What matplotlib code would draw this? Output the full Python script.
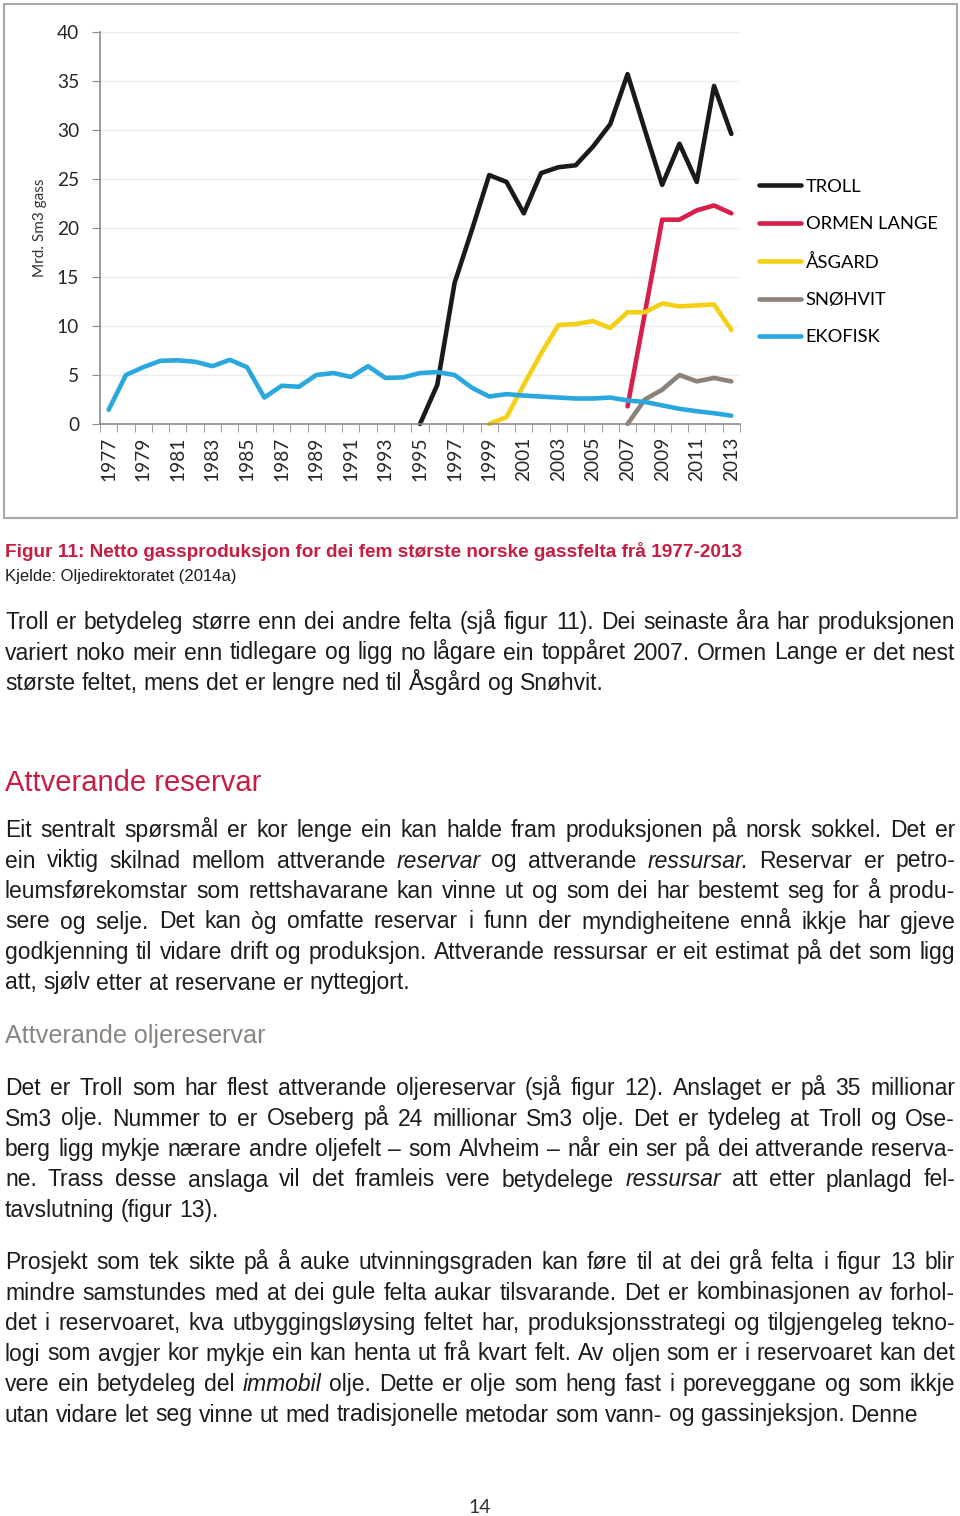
import matplotlib
matplotlib.use("Agg")
import matplotlib.pyplot as plt
from matplotlib.patches import Rectangle
import numpy as np

W, H = 960, 1516
nan = np.nan

# Netto gassproduksjon, mrd. Sm3
years = list(range(1977, 2014))
troll = [nan] * 18 + [0.0, 4.0, 14.4, 19.8, 25.4, 24.7, 21.5, 25.6, 26.2, 26.4,
                      28.3, 30.6, 35.7, 30.0, 24.4, 28.6, 24.7, 34.5, 29.6]
ormen_lange = [nan] * 30 + [1.8, 11.3, 20.85, 20.85, 21.8, 22.3, 21.5]
asgard = [nan] * 22 + [0.0, 0.7, 4.0, 7.2, 10.1, 10.2, 10.5, 9.8, 11.4, 11.4,
                       12.3, 12.0, 12.1, 12.2, 9.6]
snohvit = [nan] * 30 + [0.0, 2.5, 3.5, 5.0, 4.35, 4.7, 4.35]
ekofisk = [1.45, 5.0, 5.8, 6.45, 6.5, 6.35, 5.9, 6.55, 5.8, 2.7, 3.9, 3.8, 5.0,
           5.2, 4.8, 5.9, 4.7, 4.75, 5.2, 5.3, 5.0, 3.7, 2.8, 3.05, 2.9, 2.8,
           2.7, 2.6, 2.6, 2.7, 2.4, 2.25, 1.9, 1.55, 1.3, 1.1, 0.85]

series_names = ["TROLL", "ORMEN LANGE", "ÅSGARD", "SNØHVIT", "EKOFISK"]
series_colors = ["#1a1a1a", "#D81E4B", "#F5CF14", "#8C8279", "#2AA8DD"]

caption = "Figur 11: Netto gassproduksjon for dei fem største norske gassfelta frå 1977-2013"
source = "Kjelde: Oljedirektoratet (2014a)"
heading1 = "Attverande reservar"
heading2 = "Attverande oljereservar"

para1 = [
    "Troll er betydeleg større enn dei andre felta (sjå figur 11). Dei seinaste åra har produksjonen",
    "variert noko meir enn tidlegare og ligg no lågare ein toppåret 2007. Ormen Lange er det nest",
    "største feltet, mens det er lengre ned til Åsgård og Snøhvit.",
]
para2 = [
    "Eit sentralt spørsmål er kor lenge ein kan halde fram produksjonen på norsk sokkel. Det er",
    "ein viktig skilnad mellom attverande *reservar og attverande *ressursar. Reservar er petro-",
    "leumsførekomstar som rettshavarane kan vinne ut og som dei har bestemt seg for å produ-",
    "sere og selje. Det kan òg omfatte reservar i funn der myndigheitene ennå ikkje har gjeve",
    "godkjenning til vidare drift og produksjon. Attverande ressursar er eit estimat på det som ligg",
    "att, sjølv etter at reservane er nyttegjort.",
]
para3 = [
    "Det er Troll som har flest attverande oljereservar (sjå figur 12). Anslaget er på 35 millionar",
    "Sm3 olje. Nummer to er Oseberg på 24 millionar Sm3 olje. Det er tydeleg at Troll og Ose-",
    "berg ligg mykje nærare andre oljefelt – som Alvheim – når ein ser på dei attverande reserva-",
    "ne. Trass desse anslaga vil det framleis vere betydelege *ressursar att etter planlagd fel-",
    "tavslutning (figur 13).",
]
para4 = [
    "Prosjekt som tek sikte på å auke utvinningsgraden kan føre til at dei grå felta i figur 13 blir",
    "mindre samstundes med at dei gule felta aukar tilsvarande. Det er kombinasjonen av forhol-",
    "det i reservoaret, kva utbyggingsløysing feltet har, produksjonsstrategi og tilgjengeleg tekno-",
    "logi som avgjer kor mykje ein kan henta ut frå kvart felt. Av oljen som er i reservoaret kan det",
    "vere ein betydeleg del *immobil olje. Dette er olje som heng fast i poreveggane og som ikkje",
    "utan vidare let seg vinne ut med tradisjonelle metodar som vann- og gassinjeksjon. Denne",
]

CHART_FONT = ["Lato", "DejaVu Sans"]
BODY_FONT = ["Liberation Sans", "DejaVu Sans"]
RED = "#C81D43"
GREY = "#8A8580"
INK = "#1c1c1c"
AXIS = "#8C8C8C"


def fx(px):
    return px / W


def fy(py):
    return 1 - py / H


fig = plt.figure(figsize=(W / 100, H / 100), dpi=100)
fig.patch.set_facecolor("white")

# frame round the chart
fig.add_artist(Rectangle((fx(4), fy(518)), fx(957) - fx(4), fy(4) - fy(518),
                         transform=fig.transFigure, fill=False, ec="#A8A8A8", lw=1.5))

ax = fig.add_axes([fx(100), fy(424), fx(740) - fx(100), fy(32) - fy(424)])
x = np.arange(len(years))
for vals, name, col in zip([troll, ormen_lange, asgard, snohvit, ekofisk],
                           series_names, series_colors):
    ax.plot(x, vals, color=col, lw=3.3, label=name, clip_on=False,
            solid_capstyle="round", solid_joinstyle="round")

ax.set_xlim(-0.5, len(years) - 0.5)
ax.set_ylim(0, 40)
ax.set_yticks(range(0, 41, 5))
ax.set_xticks(x[::2])
ax.set_xticklabels([str(y) for y in years[::2]], rotation=90)
ax.set_xticks(np.arange(-0.5, len(years)), minor=True)
ax.tick_params(axis="x", which="major", length=0, pad=9)
ax.tick_params(axis="x", which="minor", length=6, color=AXIS)
ax.tick_params(axis="y", length=6, color=AXIS, pad=9)
for lab in ax.get_xticklabels() + ax.get_yticklabels():
    lab.set_family(CHART_FONT)
    lab.set_fontsize(13.8)
    lab.set_color("#262626")
ax.grid(axis="y", color="#ECECEC", lw=1)
ax.set_axisbelow(True)
for s in ["top", "right"]:
    ax.spines[s].set_visible(False)
for s in ["left", "bottom"]:
    ax.spines[s].set_color(AXIS)
    ax.spines[s].set_linewidth(1.2)

fig.text(fx(40), fy(228), "Mrd. Sm3 gass", rotation=90, ha="center", va="center",
         family=CHART_FONT, fontsize=11, color="#333333")

ax.legend(loc="center left", bbox_to_anchor=(fx(759), fy(262)),
          bbox_transform=fig.transFigure, frameon=False, borderpad=0,
          borderaxespad=0, handlelength=2.3, handletextpad=0.25,
          labelspacing=1.17, prop={"family": CHART_FONT, "size": 13.2})

# ---- page text ----
renderer = fig.canvas.get_renderer()


def measure(s, **kw):
    t = fig.text(0, 0, s, **kw)
    w = t.get_window_extent(renderer).width
    t.remove()
    return w


def put_line(y, line, justify, size=16.5, color=INK, left=5, right=955):
    words = line.split()
    styles = ["italic" if w.startswith("*") else "normal" for w in words]
    words = [w.strip("*") for w in words]
    kw = dict(fontsize=size, family=BODY_FONT)
    widths = [measure(w, style=s, **kw) for w, s in zip(words, styles)]
    if justify and len(words) > 1:
        gap = (right - left - sum(widths)) / (len(words) - 1)
    else:
        gap = measure("a a", **kw) - measure("aa", **kw)
    xp = left
    for w, s, wd in zip(words, styles, widths):
        fig.text(fx(xp), fy(y), w, style=s, color=color, ha="left", va="baseline", **kw)
        xp += wd + gap


def put_para(y0, lines, last_justified=False, step=30.5):
    for i, line in enumerate(lines):
        last = i == len(lines) - 1
        put_line(y0 + i * step, line, justify=(not last) or last_justified)


fig.text(fx(5), fy(557), caption, family=BODY_FONT, fontsize=13.65, weight="bold",
         color=RED, va="baseline")
fig.text(fx(5), fy(581), source, family=BODY_FONT, fontsize=12, color=INK, va="baseline")

put_para(629, para1)
fig.text(fx(5), fy(791), heading1, family=BODY_FONT, fontsize=21, color=RED, va="baseline")
put_para(837, para2)
fig.text(fx(5), fy(1043), heading2, family=BODY_FONT, fontsize=18.1, color=GREY, va="baseline")
put_para(1095, para3)
put_para(1269, para4)

fig.text(fx(480), fy(1513), "14", family=CHART_FONT, fontsize=14, color="#333333",
         ha="center", va="baseline")

fig.savefig("out.png", dpi=100, facecolor="white")
plt.close(fig)
